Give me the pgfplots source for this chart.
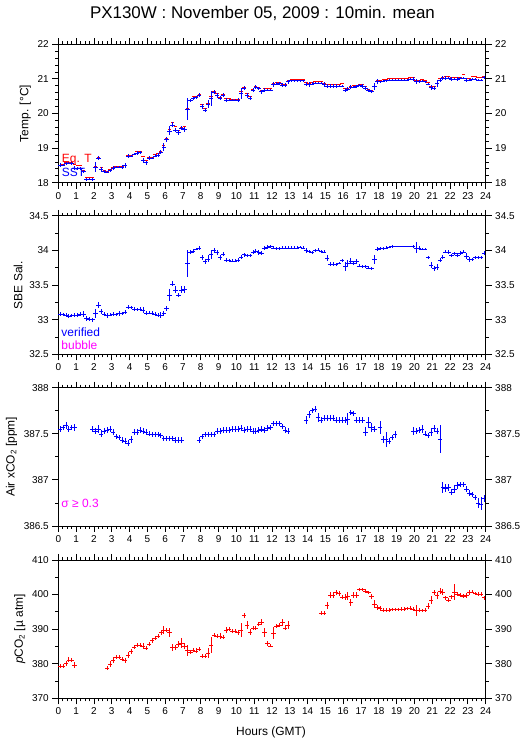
\documentclass[border=0pt]{standalone}
\usepackage{fontspec}
\setmainfont{Liberation Sans}
\usepackage{pgfplots}
\usepackage{pgfplotstable}
\pgfplotsset{compat=1.18}

\definecolor{pblue}{RGB}{0,0,255}
\definecolor{pred}{RGB}{255,0,0}
\definecolor{pmag}{RGB}{255,0,255}

% 10 min means, hour of day (GMT)
\pgfplotstableread{
x eqt sst esst
0.083 18.52 18.51 0.05
0.250 18.53 18.51 0.03
0.417 18.58 18.55 0.05
0.583 18.59 18.57 0.03
0.750 18.59 18.57 0.05
0.917 18.53 18.43 0.06
1.083 18.52 18.41 0.05
1.250 18.52 18.41 0.05
1.417 18.37 18.33 0.05
1.583 18.17 18.10 0.05
1.750 18.16 18.10 0.03
1.917 18.15 18.10 0.05
2.083 18.47 18.45 0.14
2.250 18.75 18.72 0.06
2.417 18.46 18.39 0.07
2.583 18.36 18.32 0.05
2.750 18.33 18.31 0.03
2.917 18.38 18.36 0.05
3.083 18.45 18.42 0.05
3.250 18.49 18.46 0.03
3.417 18.49 18.46 0.03
3.583 18.49 18.46 0.05
3.750 18.52 18.50 0.07
3.917 18.80 18.77 0.06
4.083 18.80 18.78 0.03
4.250 18.83 18.82 0.03
4.417 18.90 18.86 0.05
4.583 18.92 18.88 0.05
4.750 18.77 18.64 0.08
4.917 18.66 18.58 0.06
5.083 18.75 18.72 0.05
5.250 18.75 18.72 0.03
5.417 18.81 18.78 0.05
5.583 18.84 18.80 0.05
5.750 18.91 18.88 0.06
5.917 19.07 19.04 0.11
6.083 19.28 19.25 0.07
6.250 19.55 19.50 0.13
6.417 19.74 19.67 0.07
6.583 19.64 19.52 0.06
6.750 19.52 19.45 0.06
6.917 19.60 19.57 0.06
7.083 19.62 19.54 0.08
7.250 20.15 20.13 0.32
7.417 20.38 20.37 0.05
7.583 20.49 20.44 0.05
7.750 20.50 20.47 0.05
7.917 20.56 20.53 0.06
8.083 20.27 20.20 0.08
8.250 20.15 20.10 0.06
8.417 20.30 20.27 0.11
8.583 20.49 20.44 0.22
8.750 20.63 20.61 0.06
8.917 20.58 20.53 0.07
9.083 20.48 20.44 0.06
9.250 20.55 20.53 0.05
9.417 20.44 20.39 0.05
9.583 20.44 20.39 0.03
9.750 20.42 20.39 0.03
9.917 20.42 20.39 0.03
10.083 20.42 20.39 0.05
10.250 20.63 20.58 0.15
10.417 20.75 20.73 0.06
10.583 20.58 20.53 0.07
10.750 20.49 20.44 0.06
10.917 20.71 20.68 0.07
11.083 20.80 20.76 0.06
11.250 20.76 20.73 0.05
11.417 20.68 20.63 0.06
11.583 20.73 20.68 0.05
11.750 20.73 20.68 0.03
11.917 20.73 20.68 0.03
12.083 20.87 20.84 0.06
12.250 20.90 20.86 0.05
12.417 20.91 20.87 0.05
12.583 20.86 20.82 0.05
12.750 20.86 20.82 0.05
12.917 20.96 20.92 0.06
13.083 20.99 20.95 0.03
13.250 20.99 20.95 0.03
13.417 20.99 20.95 0.03
13.583 20.99 20.95 0.03
13.750 20.98 20.95 0.03
13.917 20.90 20.86 0.06
14.083 20.88 20.84 0.06
14.250 20.90 20.86 0.05
14.417 20.93 20.89 0.03
14.583 20.93 20.89 0.03
14.750 20.93 20.89 0.03
14.917 20.88 20.84 0.06
15.083 20.84 20.80 0.05
15.250 20.84 20.80 0.05
15.417 20.85 20.80 0.05
15.583 20.85 20.80 0.06
15.750 20.86 20.80 0.03
15.917 20.87 20.80 0.03
16.083 20.73 20.68 0.07
16.250 20.74 20.70 0.06
16.417 20.80 20.76 0.05
16.583 20.82 20.76 0.03
16.750 20.83 20.78 0.03
16.917 20.85 20.82 0.03
17.083 20.84 20.80 0.05
17.250 20.78 20.74 0.05
17.417 20.70 20.66 0.05
17.583 20.68 20.63 0.05
17.750 20.80 20.78 0.11
17.917 20.96 20.92 0.07
18.083 20.97 20.92 0.03
18.250 20.98 20.93 0.03
18.417 21.00 20.95 0.03
18.583 21.02 20.97 0.03
18.750 21.02 20.97 0.03
18.917 21.02 20.97 0.03
19.083 21.02 20.97 0.03
19.250 21.02 20.97 0.03
19.417 21.02 20.97 0.03
19.583 21.02 20.97 0.03
19.750 21.04 20.99 0.03
19.917 21.04 21.00 0.05
20.083 20.96 20.92 0.07
20.250 20.97 20.93 0.05
20.417 20.99 20.94 0.03
20.583 20.96 20.92 0.03
20.750 20.90 20.84 0.03
20.917 20.80 20.75 0.06
21.083 20.78 20.73 0.06
21.250 20.88 20.87 0.09
21.417 21.03 20.97 0.05
21.583 21.06 21.02 0.05
21.750 21.07 21.02 0.05
21.917 21.07 21.02 0.03
22.083 21.05 21.00 0.05
22.250 21.04 21.00 0.03
22.417 21.05 21.00 0.05
22.583 21.06 21.02 0.03
22.750 21.14 21.02 0.03
22.917 21.02 20.97 0.05
23.083 21.03 20.97 0.03
23.250 21.07 21.00 0.03
23.417 21.07 21.00 0.03
23.583 21.04 20.97 0.03
23.750 21.04 20.97 0.03
23.917 21.07 21.04 0.05
}\tempdata

\pgfplotstableread{
x sal esal
0.083 33.08 0.03
0.250 33.08 0.02
0.417 33.07 0.03
0.583 33.05 0.03
0.750 33.06 0.02
0.917 33.07 0.03
1.083 33.07 0.03
1.250 33.08 0.03
1.417 33.08 0.04
1.583 33.02 0.04
1.750 33.01 0.03
1.917 33.00 0.03
2.083 33.09 0.06
2.250 33.21 0.04
2.417 33.12 0.04
2.583 33.08 0.03
2.750 33.06 0.03
2.917 33.07 0.02
3.083 33.08 0.03
3.250 33.08 0.02
3.417 33.09 0.03
3.583 33.09 0.02
3.750 33.11 0.03
3.917 33.18 0.03
4.083 33.18 0.02
4.250 33.15 0.03
4.417 33.15 0.02
4.583 33.15 0.03
4.750 33.14 0.04
4.917 33.10 0.03
5.083 33.10 0.02
5.250 33.10 0.03
5.417 33.08 0.03
5.583 33.07 0.03
5.750 33.07 0.04
5.917 33.09 0.03
6.083 33.16 0.04
6.250 33.36 0.09
6.417 33.52 0.04
6.583 33.43 0.05
6.750 33.36 0.03
6.917 33.43 0.05
7.083 33.44 0.05
7.250 33.81 0.20
7.417 33.98 0.03
7.583 33.99 0.03
7.750 34.02 0.02
7.917 34.03 0.03
8.083 33.90 0.04
8.250 33.84 0.03
8.417 33.88 0.05
8.583 33.94 0.06
8.750 34.00 0.03
8.917 33.97 0.04
9.083 33.90 0.04
9.250 33.95 0.03
9.417 33.86 0.03
9.583 33.86 0.02
9.750 33.85 0.02
9.917 33.85 0.02
10.083 33.86 0.03
10.250 33.91 0.03
10.417 33.94 0.03
10.583 33.93 0.02
10.750 33.93 0.02
10.917 33.98 0.03
11.083 33.99 0.03
11.250 33.97 0.03
11.417 33.96 0.03
11.583 34.03 0.03
11.750 34.05 0.03
11.917 34.06 0.02
12.083 34.04 0.02
12.250 34.03 0.02
12.417 34.03 0.02
12.583 34.04 0.02
12.750 34.04 0.02
12.917 34.04 0.02
13.083 34.04 0.02
13.250 34.04 0.02
13.417 34.04 0.02
13.583 34.05 0.02
13.750 34.04 0.02
13.917 34.00 0.03
14.083 33.99 0.02
14.250 33.97 0.02
14.417 34.00 0.02
14.583 34.01 0.02
14.750 33.99 0.02
14.917 33.98 0.02
15.083 33.89 0.04
15.250 33.80 0.03
15.417 33.80 0.03
15.583 33.80 0.02
15.750 33.82 0.02
15.917 33.86 0.02
16.083 33.77 0.06
16.250 33.81 0.05
16.417 33.85 0.04
16.583 33.82 0.03
16.750 33.84 0.04
16.917 33.78 0.02
17.083 33.77 0.02
17.250 33.77 0.02
17.417 33.75 0.02
17.583 33.74 0.02
17.750 33.87 0.07
17.917 34.02 0.03
18.083 34.03 0.02
18.250 34.03 0.02
18.417 34.04 0.02
18.583 34.05 0.02
18.750 34.06 0.02
18.917 34.06 0.01
19.083 34.06 0.01
19.250 34.06 0.01
19.417 34.06 0.01
19.583 34.06 0.01
19.750 34.06 0.01
19.917 34.06 0.02
20.083 34.04 0.08
20.250 34.03 0.03
20.417 34.02 0.02
20.583 34.02 0.02
20.750 33.90 0.02
20.917 33.79 0.04
21.083 33.74 0.04
21.250 33.76 0.04
21.417 33.86 0.03
21.583 33.91 0.03
21.750 33.98 0.02
21.917 33.98 0.03
22.083 33.93 0.02
22.250 33.96 0.02
22.417 33.93 0.03
22.583 33.96 0.03
22.750 33.98 0.02
22.917 33.92 0.04
23.083 33.87 0.03
23.250 33.87 0.02
23.417 33.90 0.02
23.583 33.90 0.02
23.750 33.90 0.02
23.917 33.96 0.03
}\saldata

\pgfplotstableread{
x co2 eco2
0.083 387.55 0.03
0.250 387.57 0.03
0.417 387.59 0.04
0.583 387.55 0.03
0.750 387.57 0.03
0.917 387.57 0.04
1.917 387.55 0.03
2.083 387.53 0.03
2.250 387.55 0.04
2.417 387.50 0.04
2.583 387.53 0.03
2.750 387.54 0.03
2.917 387.55 0.03
3.083 387.52 0.03
3.250 387.47 0.03
3.417 387.46 0.03
3.583 387.43 0.03
3.750 387.42 0.03
3.917 387.40 0.03
4.083 387.44 0.04
4.250 387.52 0.03
4.417 387.52 0.03
4.583 387.54 0.03
4.750 387.53 0.03
4.917 387.52 0.03
5.083 387.50 0.03
5.250 387.49 0.03
5.417 387.49 0.03
5.583 387.49 0.03
5.750 387.48 0.03
5.917 387.45 0.03
6.083 387.45 0.03
6.250 387.45 0.03
6.417 387.45 0.03
6.583 387.43 0.03
6.750 387.43 0.03
6.917 387.43 0.03
7.917 387.43 0.03
8.083 387.47 0.03
8.250 387.49 0.03
8.417 387.49 0.03
8.583 387.49 0.03
8.750 387.49 0.03
8.917 387.53 0.03
9.083 387.53 0.03
9.250 387.54 0.03
9.417 387.54 0.03
9.583 387.54 0.03
9.750 387.55 0.03
9.917 387.55 0.03
10.083 387.55 0.03
10.250 387.56 0.03
10.417 387.54 0.03
10.583 387.55 0.03
10.750 387.55 0.03
10.917 387.53 0.03
11.083 387.53 0.03
11.250 387.54 0.03
11.417 387.55 0.03
11.583 387.54 0.03
11.750 387.56 0.03
11.917 387.57 0.03
12.083 387.61 0.03
12.250 387.61 0.03
12.417 387.61 0.03
12.583 387.58 0.03
12.750 387.54 0.03
12.917 387.53 0.03
13.917 387.65 0.04
14.083 387.71 0.04
14.250 387.75 0.03
14.417 387.77 0.03
14.583 387.68 0.05
14.750 387.65 0.03
14.917 387.67 0.03
15.083 387.67 0.03
15.250 387.67 0.03
15.417 387.67 0.03
15.583 387.65 0.03
15.750 387.65 0.03
15.917 387.65 0.03
16.083 387.65 0.03
16.250 387.66 0.06
16.417 387.73 0.03
16.583 387.72 0.03
16.750 387.65 0.03
16.917 387.65 0.03
17.083 387.65 0.03
17.250 387.52 0.05
17.417 387.62 0.06
17.583 387.57 0.05
17.750 387.55 0.03
18.083 387.57 0.07
18.250 387.44 0.04
18.417 387.44 0.08
18.583 387.42 0.03
18.750 387.46 0.03
18.917 387.49 0.04
19.917 387.53 0.04
20.083 387.53 0.03
20.250 387.54 0.03
20.417 387.55 0.04
20.583 387.50 0.03
20.750 387.48 0.03
20.917 387.52 0.04
21.083 387.56 0.04
21.250 387.53 0.03
21.417 387.44 0.15
21.583 386.92 0.06
21.750 386.91 0.04
21.917 386.92 0.04
22.083 386.87 0.03
22.250 386.90 0.04
22.417 386.94 0.04
22.583 386.95 0.03
22.750 386.95 0.03
22.917 386.90 0.03
23.083 386.86 0.03
23.250 386.84 0.03
23.417 386.81 0.03
23.583 386.75 0.05
23.750 386.74 0.07
23.917 386.80 0.04
}\codata

\pgfplotstableread{
x pco2 epco2
0.083 379.4 0.5
0.250 379.3 0.5
0.417 380.1 0.8
0.583 381.1 0.7
0.750 381.1 0.6
0.917 379.6 0.8
2.750 378.7 0.5
2.917 379.9 0.8
3.083 381.1 0.8
3.250 381.9 0.6
3.417 381.9 0.6
3.583 381.4 0.6
3.750 380.9 0.8
3.917 382.5 0.9
4.083 383.5 0.8
4.250 384.9 0.6
4.417 385.4 0.5
4.583 385.4 0.5
4.750 385.1 0.8
4.917 384.5 0.6
5.083 385.7 0.6
5.250 386.7 0.6
5.417 387.4 0.6
5.583 388.0 0.6
5.750 389.0 0.8
5.917 389.8 1.2
6.083 389.8 0.6
6.250 389.0 1.2
6.417 384.7 1.0
6.583 384.7 0.8
6.750 385.7 0.8
6.917 385.9 1.5
7.083 385.1 0.8
7.250 383.8 1.7
7.417 383.3 0.6
7.583 384.0 0.6
7.750 383.7 0.7
7.917 384.2 0.6
8.083 382.3 0.6
8.250 382.2 0.6
8.417 383.0 1.4
8.583 385.4 2.2
8.750 388.3 0.6
8.917 388.0 0.6
9.083 388.0 0.8
9.250 387.8 0.6
9.417 389.7 0.8
9.583 390.0 0.6
9.750 389.4 0.5
9.917 389.4 0.5
10.083 389.1 0.7
10.250 389.8 2.0
10.417 393.9 0.8
10.583 391.2 1.2
10.750 389.1 0.8
10.917 390.4 0.6
11.083 390.4 0.6
11.250 391.4 0.6
11.417 392.1 0.8
11.583 389.0 1.2
11.750 385.8 0.8
11.917 385.2 0.5
12.083 388.8 1.7
12.250 390.9 0.6
12.417 391.1 0.6
12.583 391.9 1.1
12.750 390.4 0.8
12.917 391.1 1.1
14.750 394.6 0.5
14.917 394.6 0.5
15.083 396.9 1.0
15.250 399.8 0.8
15.417 399.8 0.8
15.583 400.6 0.7
15.750 400.3 0.6
15.917 399.3 0.6
16.083 399.3 0.8
16.250 399.6 1.2
16.417 397.7 0.9
16.583 399.8 0.8
16.750 399.8 0.8
16.917 401.5 0.5
17.083 401.5 0.5
17.250 401.0 0.5
17.417 400.6 0.5
17.583 399.4 0.8
17.750 397.2 1.2
17.917 396.2 0.8
18.083 395.9 0.7
18.250 395.5 0.5
18.417 395.5 0.5
18.583 395.5 0.5
18.750 395.7 0.5
18.917 395.7 0.5
19.083 395.7 0.5
19.250 395.8 0.5
19.417 395.8 0.5
19.583 395.9 0.5
19.750 396.0 0.6
19.917 395.8 0.7
20.083 395.4 1.7
20.250 395.4 0.6
20.417 395.4 0.5
20.583 395.5 0.5
20.750 396.7 0.8
20.917 398.4 1.2
21.083 400.6 0.7
21.250 399.8 1.0
21.417 401.0 0.8
21.583 400.7 0.8
21.750 399.1 0.6
21.917 398.4 0.7
22.083 399.4 0.6
22.250 400.7 2.2
22.417 400.1 0.6
22.583 399.9 0.6
22.750 399.6 0.5
22.917 399.8 0.7
23.083 400.6 0.6
23.250 400.8 0.5
23.417 400.3 0.5
23.583 400.1 0.5
23.750 400.1 0.5
23.917 399.1 0.6
}\pcodata

\pgfplotsset{
  panel/.style={
    scale only axis, width=427.4bp, height=138.4bp, anchor=south west,
    xmin=0, xmax=24, xtick={0,1,...,24}, minor x tick num=3,
    tick align=outside, major tick length=6bp, minor tick length=3bp,
    axis line style={line width=0.8bp},
    every tick/.style={black, line width=0.8bp},
    tick label style={font=\fontsize{10}{11}\selectfont},
    /pgf/number format/assume math mode=true,
    label style={font=\fontsize{12}{13}\selectfont},
    yticklabel pos=left, clip=false,
  },
  rightside/.style={panel, axis y line*=right, hide x axis, ylabel={}},
  % crosses: about 10 min wide, +/- sigma high; the mark itself is hidden
  datax/.style={only marks, mark=*, mark options={opacity=0}, line width=1.1bp,
    error bars/.cd, x dir=both, x fixed=0.12, y dir=both, y explicit,
    error mark=none, /pgfplots/.cd},
}
\tikzset{txt/.style={anchor=base west, inner sep=0pt, font=\fontsize{12}{13}\selectfont}}

\begin{document}
\begin{tikzpicture}
\useasboundingbox (0,0) rectangle (529bp,739bp);

\node[anchor=base, font=\fontsize{17}{20}\selectfont] at (262.5bp,720.7bp)
  {PX130W : November 05, 2009 : 10min. mean};

% temperature
\begin{axis}[panel, at={(58.3bp,556.3bp)}, ymin=18, ymax=22,
  ytick={18,19,...,22}, minor y tick num=4, ylabel={Temp. [°C]}]
\addplot[pred, only marks, mark=*, mark options={opacity=0}, line width=1.4bp,
  error bars/.cd, x dir=both, x fixed=0.1, error mark=none]
  table[x=x, y=eqt] {\tempdata};
\addplot[pblue, datax] table[x=x, y=sst, y error=esst] {\tempdata};
\node[txt, pred] at (rel axis cs:0.008,0.145) {Eq. T};
\node[txt, pblue] at (rel axis cs:0.008,0.043) {SST};
\end{axis}
\begin{axis}[rightside, at={(58.3bp,556.3bp)}, ymin=18, ymax=22,
  ytick={18,19,...,22}, minor y tick num=4]
\end{axis}

% salinity
\begin{axis}[panel, at={(58.3bp,384.7bp)}, ymin=32.5, ymax=34.5,
  ytick={32.5,33,33.5,34,34.5}, minor y tick num=1, ylabel={SBE Sal.}]
\addplot[pblue, datax] table[x=x, y=sal, y error=esal] {\saldata};
\node[txt, pblue] at (rel axis cs:0.007,0.127) {verified};
\node[txt, pmag] at (rel axis cs:0.007,0.036) {bubble};
\end{axis}
\begin{axis}[rightside, at={(58.3bp,384.7bp)}, ymin=32.5, ymax=34.5,
  ytick={32.5,33,33.5,34,34.5}, minor y tick num=1]
\end{axis}

% air xCO2
\begin{axis}[panel, at={(58.3bp,213bp)}, ymin=386.5, ymax=388,
  ytick={386.5,387,387.5,388}, minor y tick num=1,
  ylabel={Air xCO\textsubscript{2} [ppm]}]
\addplot[pblue, datax] table[x=x, y=co2, y error=eco2] {\codata};
\node[txt, pmag] at (rel axis cs:0.007,0.133) {σ ≥ 0.3};
\end{axis}
\begin{axis}[rightside, at={(58.3bp,213bp)}, ymin=386.5, ymax=388,
  ytick={386.5,387,387.5,388}, minor y tick num=1]
\end{axis}

% pCO2
\begin{axis}[panel, at={(58.3bp,40.7bp)}, ymin=370, ymax=410,
  ytick={370,380,...,410}, minor y tick num=1,
  ylabel={\textit{p}CO\textsubscript{2} [µ atm]}]
\addplot[pred, datax] table[x=x, y=pco2, y error=epco2] {\pcodata};
\end{axis}
\begin{axis}[rightside, at={(58.3bp,40.7bp)}, ymin=370, ymax=410,
  ytick={370,380,...,410}, minor y tick num=1]
\end{axis}

\node[anchor=base, font=\fontsize{12}{13}\selectfont] at (271bp,4bp) {Hours (GMT)};
\end{tikzpicture}
\end{document}
